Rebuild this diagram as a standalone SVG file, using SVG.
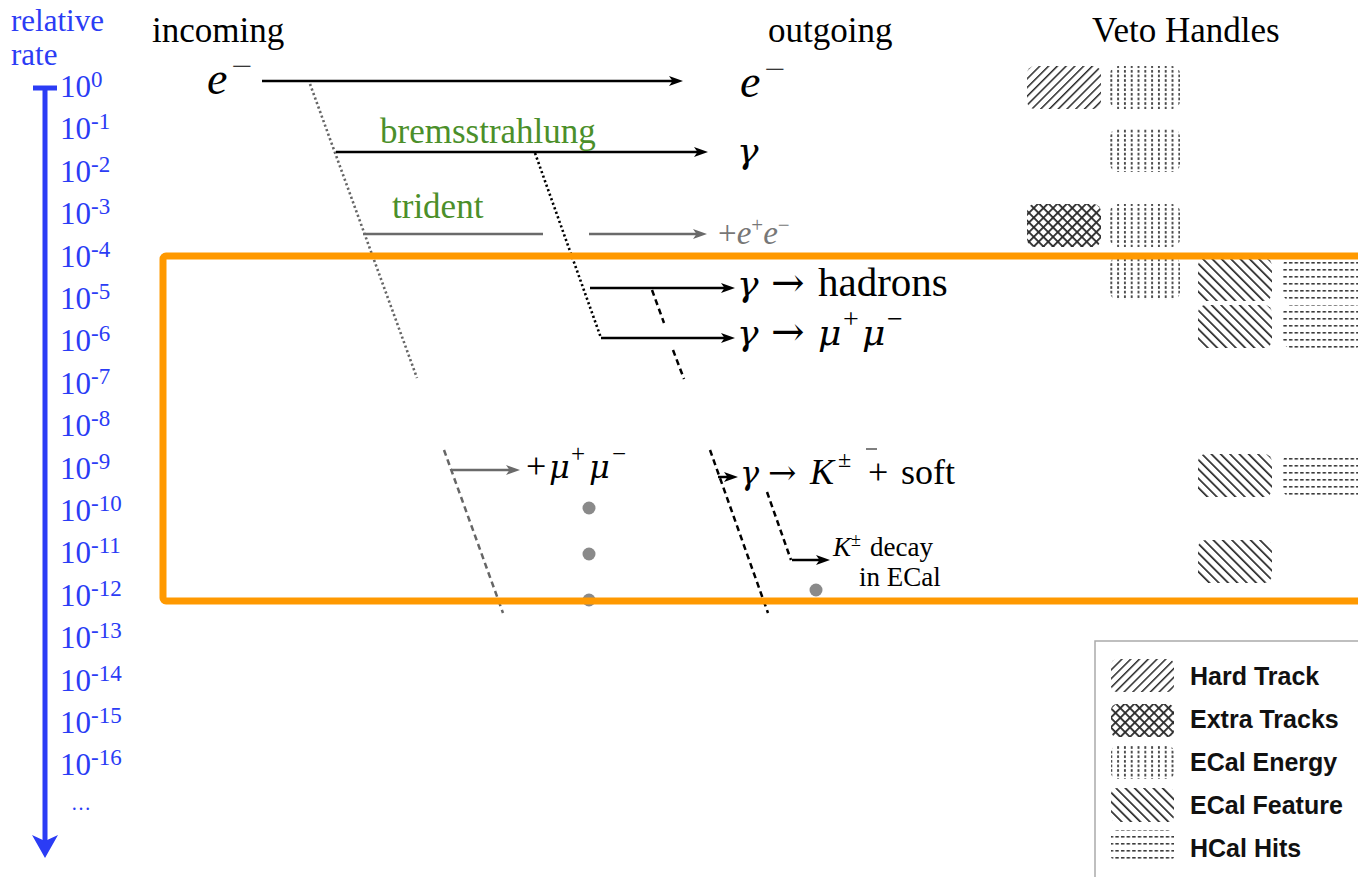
<svg xmlns="http://www.w3.org/2000/svg" width="1358" height="877" viewBox="0 0 1358 877">
<style>
.blue{fill:#2b3cf5;font-family:"Liberation Serif",serif}
.tick{font-size:31px}
.sup{font-size:23px}
.head{font-family:"Liberation Serif",serif;font-size:35px;fill:#000}
.green{font-family:"Liberation Serif",serif;font-size:35px;fill:#4b8f2a}
.m{font-family:"Liberation Serif",serif;fill:#000}
.g{font-family:"DejaVu Serif",serif;fill:#000}
.it{font-style:italic}
.leg{font-family:"Liberation Sans",Arial,sans-serif;font-weight:bold;font-size:25px;fill:#111}
.ln{stroke:#000;stroke-width:2.5;fill:none}
.gl{stroke:#6a6a6a;stroke-width:2.5;fill:none}
.dotk{stroke:#000;stroke-width:2.6;stroke-dasharray:2.2 2.6;fill:none}
.dotg{stroke:#666;stroke-width:2.6;stroke-dasharray:2.2 2.6;fill:none}
.dashk{stroke:#000;stroke-width:2.5;stroke-dasharray:6 4;fill:none}
.dashg{stroke:#666;stroke-width:2.5;stroke-dasharray:6 4;fill:none}
</style>
<defs>
<marker id="ak" viewBox="0 0 14 10" refX="8" refY="5" markerWidth="14" markerHeight="10" markerUnits="userSpaceOnUse" orient="auto"><path d="M0,0 L14,5 L0,10 L3.5,5 z" fill="#000"/></marker>
<marker id="ag" viewBox="0 0 14 10" refX="8" refY="5" markerWidth="14" markerHeight="10" markerUnits="userSpaceOnUse" orient="auto"><path d="M0,0 L14,5 L0,10 L3.5,5 z" fill="#6a6a6a"/></marker>
<pattern id="pHard" width="6.2" height="6.2" patternUnits="userSpaceOnUse" patternTransform="rotate(45)"><rect x="0" y="0" width="1.5" height="6.2" fill="#2a2a2a"/></pattern>
<pattern id="pFeat" width="6.6" height="6.6" patternUnits="userSpaceOnUse" patternTransform="rotate(-45)"><rect x="0" y="0" width="1.7" height="6.6" fill="#2a2a2a"/></pattern>
<pattern id="pCross" width="6.8" height="6.8" patternUnits="userSpaceOnUse" patternTransform="rotate(45)"><rect x="0" y="0" width="1.8" height="6.8" fill="#2a2a2a"/><rect x="0" y="0" width="6.8" height="1.8" fill="#2a2a2a"/></pattern>
<pattern id="pDots" width="6.8" height="4.6" patternUnits="userSpaceOnUse"><rect x="2" y="1" width="1.8" height="2.6" fill="#3a3a3a"/></pattern>
<pattern id="pHcal" width="5.6" height="7" patternUnits="userSpaceOnUse"><rect x="1" y="3" width="3.4" height="1.6" fill="#3a3a3a"/></pattern>
</defs>
<rect width="1358" height="877" fill="#fff"/>

<g id="axis">
<text class="blue" font-size="31"><tspan x="11" y="31">relative</tspan><tspan x="11" y="65">rate</tspan></text>
<line x1="45" y1="88" x2="45" y2="842" stroke="#2b3cf5" stroke-width="5"/>
<line x1="33" y1="88" x2="57" y2="88" stroke="#2b3cf5" stroke-width="5"/>
<path d="M32,835 L45,858 L58,835 L45,841 z" fill="#2b3cf5"/>
<text class="blue tick" x="60" y="97">10<tspan class="sup" dy="-10">0</tspan></text>
<text class="blue tick" x="60" y="139">10<tspan class="sup" dy="-10">-1</tspan></text>
<text class="blue tick" x="60" y="182">10<tspan class="sup" dy="-10">-2</tspan></text>
<text class="blue tick" x="60" y="224">10<tspan class="sup" dy="-10">-3</tspan></text>
<text class="blue tick" x="60" y="267">10<tspan class="sup" dy="-10">-4</tspan></text>
<text class="blue tick" x="60" y="309">10<tspan class="sup" dy="-10">-5</tspan></text>
<text class="blue tick" x="60" y="351">10<tspan class="sup" dy="-10">-6</tspan></text>
<text class="blue tick" x="60" y="394">10<tspan class="sup" dy="-10">-7</tspan></text>
<text class="blue tick" x="60" y="436">10<tspan class="sup" dy="-10">-8</tspan></text>
<text class="blue tick" x="60" y="479">10<tspan class="sup" dy="-10">-9</tspan></text>
<text class="blue tick" x="60" y="521">10<tspan class="sup" dy="-10">-10</tspan></text>
<text class="blue tick" x="60" y="563">10<tspan class="sup" dy="-10">-11</tspan></text>
<text class="blue tick" x="60" y="606">10<tspan class="sup" dy="-10">-12</tspan></text>
<text class="blue tick" x="60" y="648">10<tspan class="sup" dy="-10">-13</tspan></text>
<text class="blue tick" x="60" y="691">10<tspan class="sup" dy="-10">-14</tspan></text>
<text class="blue tick" x="60" y="733">10<tspan class="sup" dy="-10">-15</tspan></text>
<text class="blue tick" x="60" y="775">10<tspan class="sup" dy="-10">-16</tspan></text>
<text class="blue" x="71" y="810" font-size="20">…</text>
</g>

<g id="headers">
<text class="head" x="152" y="42">incoming</text>
<text class="head" x="768" y="42">outgoing</text>
<text class="head" x="1092" y="42">Veto Handles</text>
</g>

<g id="connectors">
<line class="dotg" x1="310" y1="84" x2="417" y2="378"/>
<line class="dashg" x1="444" y1="450" x2="503" y2="613"/>
<line class="dotk" x1="535" y1="153" x2="601" y2="338"/>
<line class="dashk" x1="652" y1="290" x2="664" y2="323"/>
<line class="dashk" x1="673" y1="350" x2="684" y2="379"/>
<line class="dashk" x1="710" y1="450" x2="768" y2="613"/>
<line class="dashk" x1="767" y1="492" x2="791" y2="560"/>
<line class="ln" x1="262" y1="81" x2="677" y2="81" marker-end="url(#ak)"/>
<line class="ln" x1="336" y1="152" x2="702" y2="152" marker-end="url(#ak)"/>
<line class="gl" x1="363" y1="234" x2="543" y2="234"/>
<line class="gl" x1="589" y1="234" x2="701" y2="234" marker-end="url(#ag)"/>
<line class="ln" x1="590" y1="288" x2="729" y2="288" stroke-width="3" marker-end="url(#ak)"/>
<line class="ln" x1="601" y1="338" x2="729" y2="338" stroke-width="3" marker-end="url(#ak)"/>
<line class="gl" x1="451" y1="470" x2="514" y2="470" marker-end="url(#ag)"/>
<line class="ln" x1="718" y1="477" x2="732" y2="477" marker-end="url(#ak)"/>
<line class="ln" x1="792" y1="560" x2="824" y2="560" marker-end="url(#ak)"/>
<line x1="866" y1="449" x2="877" y2="449" stroke="#555" stroke-width="1.5"/>
</g>

<g id="dots" fill="#8a8a8a">
<circle cx="589" cy="508" r="6.5"/>
<circle cx="589" cy="554" r="6.5"/>
<circle cx="589" cy="600" r="6.5"/>
<circle cx="816" cy="590" r="6.5"/>
</g>

<g id="incoming-e">
<text class="m" x="207" y="94" font-size="46"><tspan class="it">e</tspan><tspan font-size="24" dx="4" dy="-20" textLength="21" lengthAdjust="spacingAndGlyphs">−</tspan></text>
</g>
<g id="outgoing-e">
<text class="m" x="740" y="97" font-size="46"><tspan class="it">e</tspan><tspan font-size="24" dx="4" dy="-20" textLength="21" lengthAdjust="spacingAndGlyphs">−</tspan></text>
</g>
<g id="brems">
<text class="green" x="380" y="143">bremsstrahlung</text>
<text class="g it" x="737" y="163" font-size="36">γ</text>
</g>
<g id="trident">
<text class="green" x="392" y="218">trident</text>
<text x="718" y="244" font-family="Liberation Serif,serif" font-size="33" fill="#777">+<tspan font-style="italic">e</tspan><tspan font-size="21" dy="-12">+</tspan><tspan font-style="italic" dy="12">e</tspan><tspan font-size="21" dy="-12">−</tspan></text>
</g>
<g id="gamma-hadrons">
<text class="g it" x="737" y="296" font-size="36">γ</text>
<text class="g" x="771" y="296" font-size="40">→</text>
<text class="m" x="818" y="296" font-size="41">hadrons</text>
</g>
<g id="gamma-mumu">
<text class="g it" x="737" y="345" font-size="36">γ</text>
<text class="g" x="771" y="345" font-size="40">→</text>
<text class="g it" x="818" y="345" font-size="36">μ</text>
<text class="m" x="843" y="328" font-size="28">+</text>
<text class="g it" x="862" y="345" font-size="36">μ</text>
<text class="m" x="887" y="328" font-size="28">−</text>
</g>
<g id="trident-mumu">
<text class="m" x="526" y="478" font-size="36">+</text>
<text class="g it" x="549" y="478" font-size="32">μ</text>
<text class="m" x="571" y="462" font-size="25">+</text>
<text class="g it" x="589" y="478" font-size="32">μ</text>
<text class="m" x="612" y="462" font-size="25">−</text>
</g>
<g id="gamma-K">
<text class="g it" x="740" y="484" font-size="32">γ</text>
<text class="g" x="768" y="484" font-size="34">→</text>
<text class="m it" x="810" y="484" font-size="36">K</text>
<text class="m" x="838" y="467" font-size="24">±</text>
<text class="m" x="868" y="484" font-size="36">+</text>
<text class="m" x="901" y="484" font-size="36">soft</text>
</g>
<g id="K-decay">
<text class="m" font-size="27"><tspan class="it" x="833" y="556">K</tspan><tspan font-size="18" dy="-10">±</tspan><tspan x="870" y="556">decay</tspan><tspan x="859" y="586">in ECal</tspan></text>
</g>

<g id="veto-handles">
<rect x="1027" y="66" width="74" height="43" rx="8" fill="url(#pHard)"/>
<rect x="1110" y="66" width="70" height="43" rx="8" fill="url(#pDots)"/>
<rect x="1110" y="129" width="70" height="43" rx="8" fill="url(#pDots)"/>
<rect x="1027" y="204" width="74" height="43" rx="8" fill="url(#pCross)"/>
<rect x="1110" y="204" width="70" height="43" rx="8" fill="url(#pDots)"/>
<rect x="1110" y="257" width="70" height="43" rx="8" fill="url(#pDots)"/>
<rect x="1198" y="258" width="74" height="43" rx="8" fill="url(#pFeat)"/>
<rect x="1283" y="258" width="80" height="43" rx="8" fill="url(#pHcal)"/>
<rect x="1198" y="305" width="74" height="43" rx="8" fill="url(#pFeat)"/>
<rect x="1283" y="305" width="80" height="43" rx="8" fill="url(#pHcal)"/>
<rect x="1198" y="454" width="74" height="43" rx="8" fill="url(#pFeat)"/>
<rect x="1283" y="454" width="80" height="43" rx="8" fill="url(#pHcal)"/>
<rect x="1198" y="540" width="74" height="43" rx="8" fill="url(#pFeat)"/>
</g>

<g id="signal-region">
<rect x="163" y="256" width="1210" height="345" rx="3" fill="none" stroke="#ff9900" stroke-width="7"/>
</g>

<g id="legend">
<rect x="1095" y="641" width="300" height="300" fill="#fff" stroke="#aaa" stroke-width="1.5"/>
<rect x="1111" y="659" width="63" height="33" rx="6" fill="url(#pHard)"/>
<rect x="1111" y="704" width="63" height="33" rx="6" fill="url(#pCross)"/>
<rect x="1111" y="746" width="63" height="33" rx="6" fill="url(#pDots)"/>
<rect x="1111" y="788" width="63" height="34" rx="6" fill="url(#pFeat)"/>
<rect x="1111" y="830" width="63" height="32" rx="6" fill="url(#pHcal)"/>
<text class="leg" x="1190" y="685">Hard Track</text>
<text class="leg" x="1190" y="728">Extra Tracks</text>
<text class="leg" x="1190" y="771">ECal Energy</text>
<text class="leg" x="1190" y="814">ECal Feature</text>
<text class="leg" x="1190" y="857">HCal Hits</text>
</g>
</svg>
